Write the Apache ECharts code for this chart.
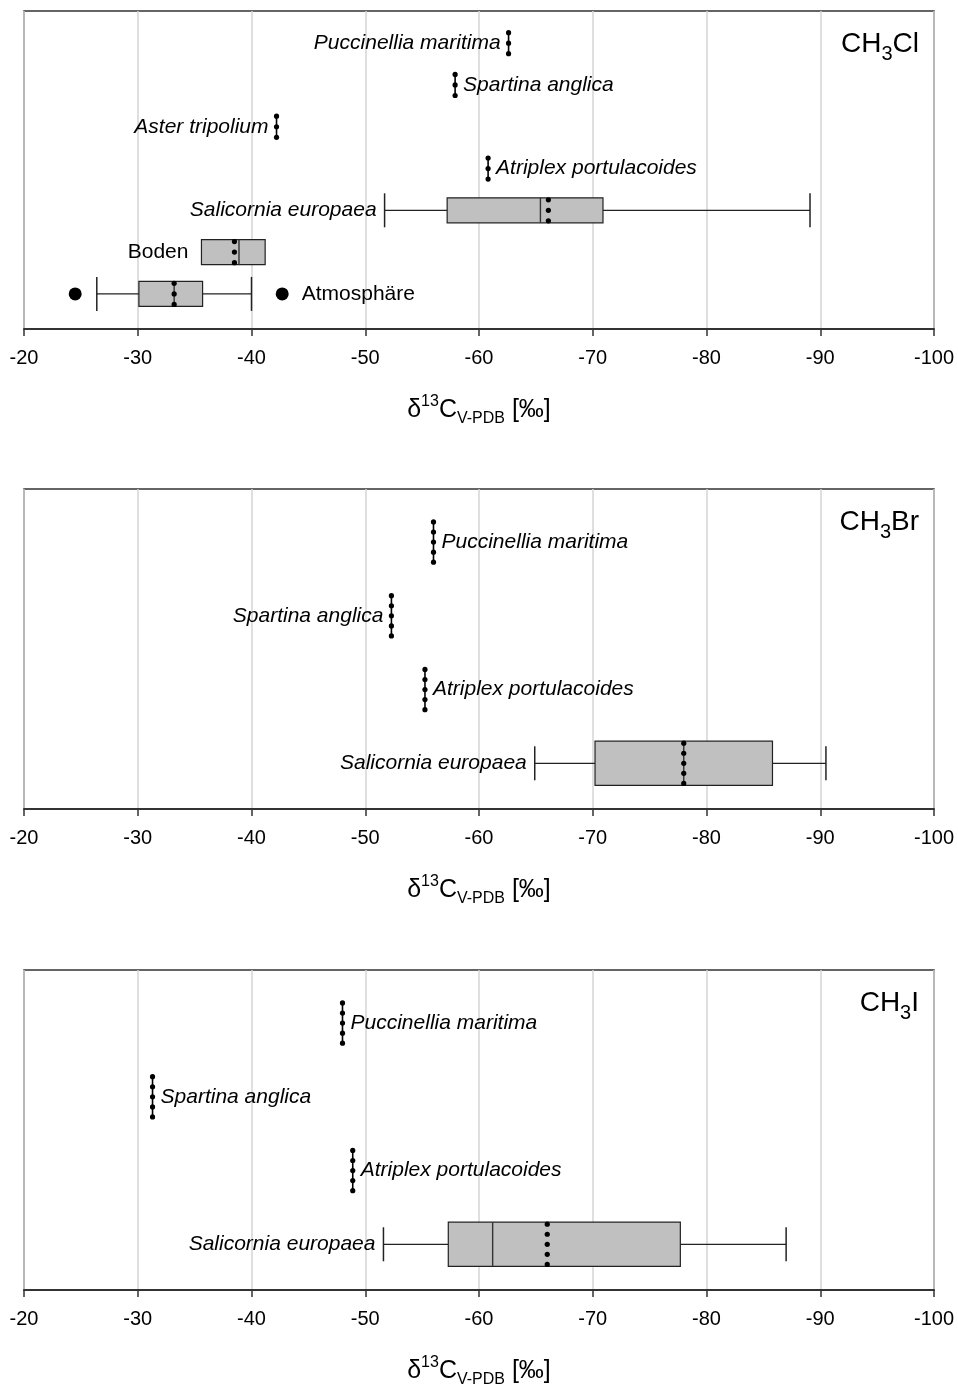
<!DOCTYPE html>
<html><head><meta charset="utf-8">
<script src="https://cdn.jsdelivr.net/npm/echarts@6/dist/echarts.min.js"></script>
<style>html,body{margin:0;padding:0;background:#fff}#c{width:958px;height:1398px}</style>
</head><body><div id="c"></div>
<script>
// ---------- DATA (rows listed bottom to top) ----------
// Panel 1: CH3Cl
const clGroups = ['Atmosphäre', 'Boden', 'Salicornia europaea', 'Atriplex portulacoides', 'Aster tripolium', 'Spartina anglica', 'Puccinellia maritima'];
const clWhiskerLow = [-26.4, null, -51.7, null, null, null, null];
const clQ1 = [-30.1, -35.6, -57.2, -60.8, -42.2, -57.9, -62.6];
const clMedian = [-33.2, -38.9, -65.4, -60.8, -42.2, -57.9, -62.6];
const clQ3 = [-35.7, -41.2, -70.9, -60.8, -42.2, -57.9, -62.6];
const clWhiskerHigh = [-40.0, null, -89.1, null, null, null, null];
const clMean = [-33.2, -38.5, -66.1, -60.8, -42.2, -57.9, -62.6];
const clOutliers = [[-24.5, 0], [-42.7, 0]]; // [value, row]
const clLabelSide = ['right', 'left', 'left', 'right', 'left', 'right', 'left'];
const clItalic = [false, false, true, true, true, true, true];

// Panel 2: CH3Br
const brGroups = ['Salicornia europaea', 'Atriplex portulacoides', 'Spartina anglica', 'Puccinellia maritima'];
const brWhiskerLow = [-64.9, null, null, null];
const brQ1 = [-70.2, -55.25, -52.3, -56.0];
const brMedian = [-78.0, -55.25, -52.3, -56.0];
const brQ3 = [-85.8, -55.25, -52.3, -56.0];
const brWhiskerHigh = [-90.5, null, null, null];
const brMean = [-78.0, -55.25, -52.3, -56.0];
const brLabelSide = ['left', 'right', 'left', 'right'];
const brItalic = [true, true, true, true];

// Panel 3: CH3I
const iGroups = ['Salicornia europaea', 'Atriplex portulacoides', 'Spartina anglica', 'Puccinellia maritima'];
const iWhiskerLow = [-51.6, null, null, null];
const iQ1 = [-57.3, -48.9, -31.3, -48.0];
const iMedian = [-61.2, -48.9, -31.3, -48.0];
const iQ3 = [-77.7, -48.9, -31.3, -48.0];
const iWhiskerHigh = [-87.0, null, null, null];
const iMean = [-66.0, -48.9, -31.3, -48.0];
const iLabelSide = ['left', 'right', 'right', 'right'];
const iItalic = [true, true, true, true];

const xTicks = [-20, -30, -40, -50, -60, -70, -80, -90, -100];
const panelTitles = [['CH', '3', 'Cl'], ['CH', '3', 'Br'], ['CH', '3', 'I']];
const axisTitle = ['δ', '13', 'C', 'V-PDB', ' [‰]'];

// ---------- LAYOUT ----------
const FONT = '"Liberation Sans", Arial, Helvetica, sans-serif';
const panels = [
  { groups: clGroups, wl: clWhiskerLow, q1: clQ1, med: clMedian, q3: clQ3, wh: clWhiskerHigh, mean: clMean, outliers: clOutliers, side: clLabelSide, italic: clItalic,
    top: 11, height: 318, ymin: -0.84, ymax: 6.77 },
  { groups: brGroups, wl: brWhiskerLow, q1: brQ1, med: brMedian, q3: brQ3, wh: brWhiskerHigh, mean: brMean, outliers: [], side: brLabelSide, italic: brItalic,
    top: 489, height: 320, ymin: -0.62, ymax: 3.72 },
  { groups: iGroups, wl: iWhiskerLow, q1: iQ1, med: iMedian, q3: iQ3, wh: iWhiskerHigh, mean: iMean, outliers: [], side: iLabelSide, italic: iItalic,
    top: 970, height: 320, ymin: -0.62, ymax: 3.72 }
];

const chart = echarts.init(document.getElementById('c'), null, { renderer: 'canvas' });

const BOX_H = 0.6;   // in row units
const CAP = 34;      // whisker cap height px
const DOT_R = 2.6;
const OUT_R = 6.5;

function makeRender(p) {
  return function (params, api) {
    const i = params.dataIndex;
    const ptX = v => api.coord([v, i])[0];
    const cy = api.coord([p.q1[i], i])[1];
    const bh = Math.abs(api.size([0, BOX_H])[1]);
    const ch = [];
    const xs = [];
    const stroke = '#222';
    if (p.wl[i] != null) {
      const a = ptX(p.wl[i]), b = ptX(p.q1[i]);
      ch.push({ type: 'line', shape: { x1: a, y1: cy, x2: b, y2: cy }, style: { stroke, lineWidth: 1.2 } });
      ch.push({ type: 'line', shape: { x1: a, y1: cy - CAP / 2, x2: a, y2: cy + CAP / 2 }, style: { stroke, lineWidth: 1.5 } });
      xs.push(a);
    }
    if (p.wh[i] != null) {
      const a = ptX(p.q3[i]), b = ptX(p.wh[i]);
      ch.push({ type: 'line', shape: { x1: a, y1: cy, x2: b, y2: cy }, style: { stroke, lineWidth: 1.2 } });
      ch.push({ type: 'line', shape: { x1: b, y1: cy - CAP / 2, x2: b, y2: cy + CAP / 2 }, style: { stroke, lineWidth: 1.5 } });
      xs.push(b);
    }
    const x1 = ptX(p.q1[i]), x2 = ptX(p.q3[i]);
    xs.push(x1, x2);
    if (Math.abs(x2 - x1) > 0.5) {
      ch.push({ type: 'rect', shape: { x: Math.min(x1, x2), y: cy - bh / 2, width: Math.abs(x2 - x1), height: bh },
        style: { fill: '#c0c0c0', stroke, lineWidth: 1.2 } });
      const xm = ptX(p.med[i]);
      ch.push({ type: 'line', shape: { x1: xm, y1: cy - bh / 2, x2: xm, y2: cy + bh / 2 }, style: { stroke: '#333', lineWidth: 1.4 } });
    } else {
      ch.push({ type: 'line', shape: { x1: x1, y1: cy - bh / 2 + 2, x2: x1, y2: cy + bh / 2 - 2 }, style: { stroke: '#000', lineWidth: 1.6 } });
    }
    // mean: dotted
    const xmean = ptX(p.mean[i]);
    xs.push(xmean);
    const n = Math.floor(bh / 10) + 1;
    const span = bh - 4;
    for (let k = 0; k < n; k++) {
      const yy = cy - span / 2 + k * (span / (n - 1));
      ch.push({ type: 'circle', shape: { cx: xmean, cy: yy, r: DOT_R }, style: { fill: '#000' } });
    }
    p.outliers.forEach(o => {
      if (o[1] === i) xs.push(ptX(o[0]) + (p.side[i] === 'right' ? OUT_R : -OUT_R));
    });
    const minX = Math.min.apply(null, xs), maxX = Math.max.apply(null, xs);
    const right = p.side[i] === 'right';
    const gap = p.italic[i] ? 8 : 13;
    ch.push({ type: 'text', style: {
      text: p.groups[i], x: right ? maxX + gap : minX - gap, y: cy,
      align: right ? 'left' : 'right', verticalAlign: 'middle',
      fontSize: 21, fontStyle: p.italic[i] ? 'italic' : 'normal', fontFamily: FONT, fill: '#000'
    } });
    return { type: 'group', children: ch };
  };
}

const grids = [], xAxes = [], yAxes = [], series = [], titles = [];
const nameRich = {
  g: { fontSize: 25, fontFamily: FONT, color: '#000', lineHeight: 34, verticalAlign: 'middle' },
  sup: { fontSize: 16, fontFamily: FONT, color: '#000', lineHeight: 34, verticalAlign: 'top', padding: [1, 0, 0, 0] },
  sub: { fontSize: 16, fontFamily: FONT, color: '#000', lineHeight: 34, verticalAlign: 'bottom' }
};
const axisName = '{g|' + axisTitle[0] + '}{sup|' + axisTitle[1] + '}{g|' + axisTitle[2] + '}{sub|' + axisTitle[3] + '}{g|' + axisTitle[4] + '}';

panels.forEach((p, k) => {
  grids.push({ left: 24, right: 24, top: p.top, height: p.height, show: true, borderColor: '#333', borderWidth: 1.5, backgroundColor: 'transparent' });
  xAxes.push({
    type: 'value', gridIndex: k, min: -100, max: -20, interval: 10, inverse: true,
    axisLine: { show: true, onZero: false, lineStyle: { color: '#333', width: 2 } },
    axisTick: { show: true, length: 7, lineStyle: { color: '#333', width: 1.5 } },
    axisLabel: { fontSize: 20, fontFamily: FONT, color: '#000', margin: 19,
      formatter: v => String(xTicks[xTicks.indexOf(v)]) },
    splitLine: { show: true, lineStyle: { color: '#d4d4d4', width: 1.5 } },
    name: axisName, nameLocation: 'middle', nameGap: 64,
    nameTextStyle: { rich: nameRich }
  });
  yAxes.push({ type: 'value', gridIndex: k, min: p.ymin, max: p.ymax, show: false, splitLine: { show: false } });
  series.push({
    type: 'custom', xAxisIndex: k, yAxisIndex: k, renderItem: makeRender(p),
    data: p.mean.map((m, i) => [m, i]), clip: false, silent: true, animation: false
  });
  if (p.outliers.length) {
    series.push({ type: 'scatter', xAxisIndex: k, yAxisIndex: k, data: p.outliers, symbol: 'circle', symbolSize: OUT_R * 2,
      itemStyle: { color: '#000', opacity: 1 }, silent: true, animation: false });
  }
  const t = panelTitles[k];
  titles.push({
    text: '{a|' + t[0] + '}{s|' + t[1] + '}{a|' + t[2] + '}',
    right: 34, top: p.top + 8,
    textStyle: { fontWeight: 'normal', rich: {
      a: { fontSize: 28, fontWeight: 'normal', fontFamily: FONT, color: '#000', lineHeight: 40, verticalAlign: 'middle' },
      s: { fontSize: 20, fontWeight: 'normal', fontFamily: FONT, color: '#000', lineHeight: 40, verticalAlign: 'bottom' }
    } }
  });
});

chart.setOption({
  animation: false,
  backgroundColor: '#fff',
  title: titles,
  grid: grids,
  xAxis: xAxes,
  yAxis: yAxes,
  series: series
});
</script></body></html>
